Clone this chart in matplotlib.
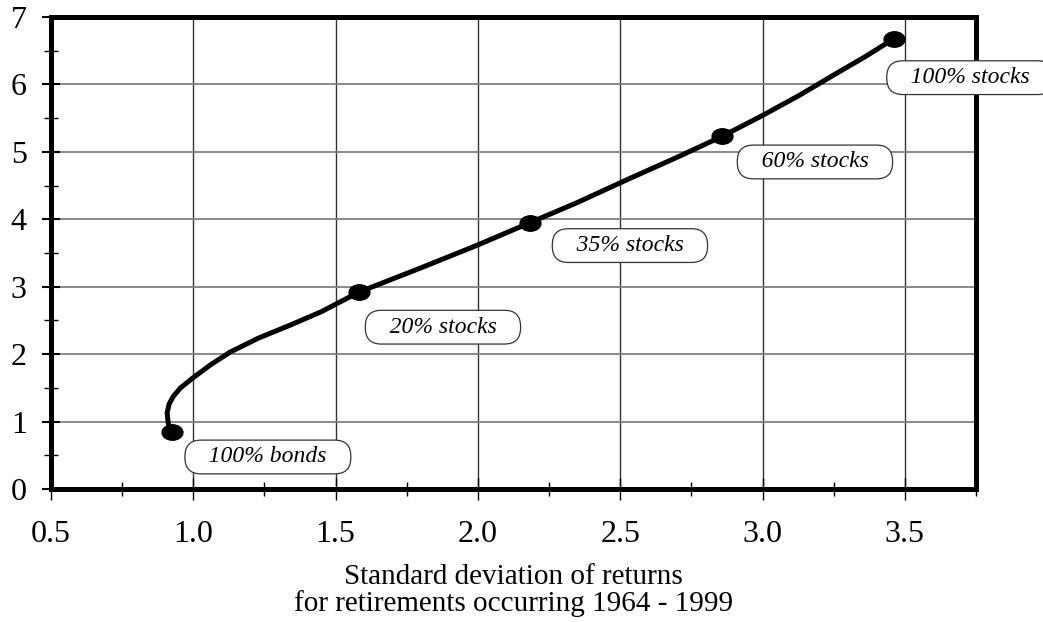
import matplotlib
matplotlib.use("Agg")
import matplotlib.pyplot as plt
from matplotlib.path import Path
from matplotlib.transforms import Affine2D
from matplotlib.ticker import MultipleLocator, FormatStrFormatter

plt.rcParams['font.family'] = ['Liberation Serif', 'DejaVu Serif']

# 主な配分の点
mix_labels = ["100% bonds", "20% stocks", "35% stocks", "60% stocks", "100% stocks"]
mix_sd = [0.925, 1.582, 2.183, 2.858, 3.462]
mix_ret = [0.85, 2.92, 3.95, 5.23, 6.68]

# 曲線（図から読み取った点）
curve_sd = [0.925, 0.912, 0.908, 0.915, 0.929, 0.955, 0.999, 1.06, 1.129, 1.23, 1.34,
            1.45, 1.582, 1.80, 2.00, 2.183, 2.35, 2.52, 2.70, 2.858, 3.0, 3.13, 3.25, 3.36, 3.462]
curve_ret = [0.85, 0.97, 1.13, 1.26, 1.37, 1.50, 1.65, 1.84, 2.03, 2.24, 2.43,
             2.63, 2.92, 3.28, 3.62, 3.95, 4.25, 4.58, 4.92, 5.23, 5.54, 5.84, 6.14, 6.41, 6.68]

# ラベルの中心位置
label_x = [1.262, 1.877, 2.534, 3.184, 3.73]
label_y = [0.475, 2.40, 3.61, 4.85, 6.10]

fig = plt.figure(figsize=(10.43, 6.22), dpi=100)
ax = fig.add_axes([0.0489, 0.2138, 0.8869, 0.7589])

ax.set_xlim(0.5, 3.75)
ax.set_ylim(0, 7)
ax.xaxis.set_major_locator(MultipleLocator(0.5))
ax.xaxis.set_minor_locator(MultipleLocator(0.25))
ax.yaxis.set_major_locator(MultipleLocator(1))
ax.yaxis.set_minor_locator(MultipleLocator(0.5))
ax.xaxis.set_major_formatter(FormatStrFormatter('%.1f'))
ax.yaxis.set_major_formatter(FormatStrFormatter('%d'))

# グリッド（縦は濃いめ、横は灰色）
ax.xaxis.grid(True, which='major', color='#333333', linewidth=1.0)
ax.yaxis.grid(True, which='major', color='#808080', linewidth=1.3)
ax.set_axisbelow(True)

for s in ax.spines.values():
  s.set_linewidth(3.6)
  s.set_color('black')

ax.tick_params(axis='x', which='major', direction='inout', length=16, width=1, labelsize=23, pad=14)
ax.tick_params(axis='x', which='minor', direction='inout', length=10, width=1)
ax.tick_params(axis='y', which='major', direction='inout', length=13, width=1.5, labelsize=23, pad=11)
ax.tick_params(axis='y', which='minor', direction='inout', length=10, width=1)

ax.plot(curve_sd, curve_ret, color='black', linewidth=3.6, solid_capstyle='round', zorder=3)

# 横長の楕円マーカー
ellipse = Path.unit_circle().transformed(Affine2D().scale(1.35, 1.0))
ax.plot(mix_sd, mix_ret, linestyle='none', marker=ellipse, markersize=15,
        color='black', zorder=4)

for lab, x, y in zip(mix_labels, label_x, label_y):
  ax.text(x, y, "   " + lab + "   ", fontsize=17, style='italic', ha='center', va='center',
          zorder=5, clip_on=False,
          bbox=dict(boxstyle='round,pad=0.27,rounding_size=0.68', facecolor='white',
                    edgecolor='#333333', linewidth=0.9))

ax.set_xlabel("Standard deviation of returns\nfor retirements occurring 1964 - 1999",
              fontsize=21, linespacing=1.02, labelpad=11)

fig.savefig("out.png", dpi=100)
